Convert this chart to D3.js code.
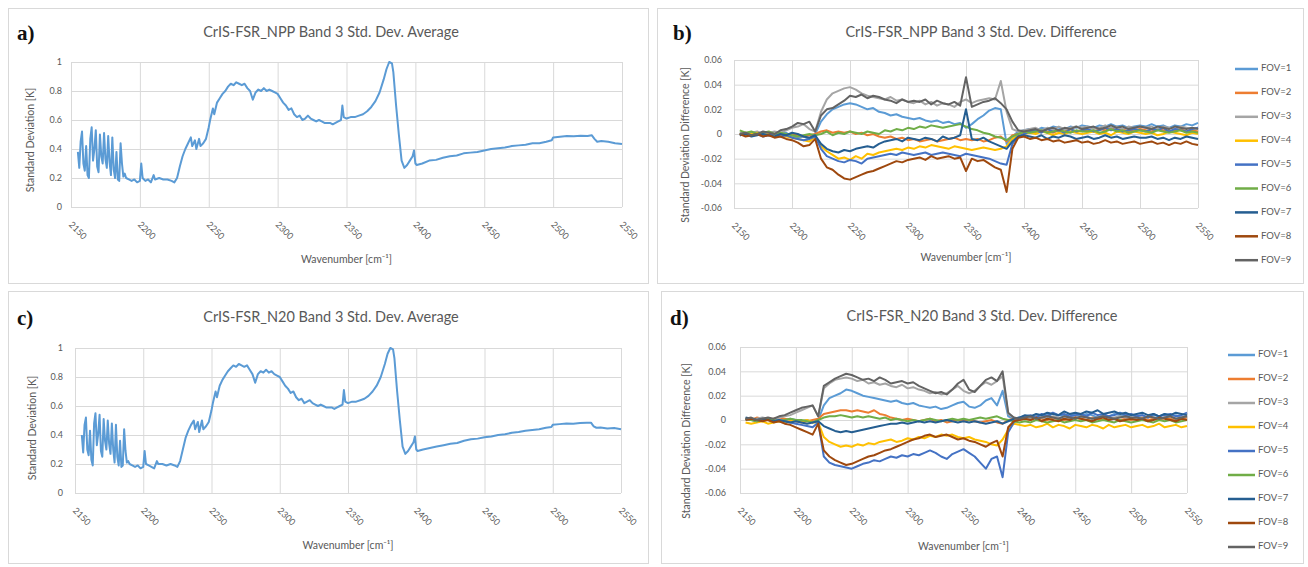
<!DOCTYPE html>
<html>
<head>
<meta charset="utf-8">
<title>CrIS-FSR Band 3 Std. Dev.</title>
<style>
body {
    margin: 0;
    background-color: #fff;
    font-family: Lato, 'Open Sans', sans-serif;
}
svg { display: block; }
.frame { fill: #fff; stroke: #d9d9d9; }
.grid line { stroke: #d9d9d9; }
.grid path { display: none; }
.grid text { fill: #595959; font-size: 9px; font-family: Lato, sans-serif; }
.title { fill: #595959; font-size: 14.5px; text-anchor: middle; dominant-baseline: middle; }
.axis-title { fill: #595959; font-size: 10.5px; text-anchor: middle; dominant-baseline: middle; }
.tag { font-family: 'Liberation Serif', 'DejaVu Serif', serif; font-weight: bold; font-size: 21px; fill: #111; }
.legend text { fill: #595959; font-size: 9.5px; dominant-baseline: middle; }
</style>
<script src="https://cdn.jsdelivr.net/npm/d3@7"></script>
</head>
<body>
<script>
// axis ticks and legend names
var wnTicks = [2150, 2200, 2250, 2300, 2350, 2400, 2450, 2500, 2550];
var sdTicks = [0, 0.2, 0.4, 0.6, 0.8, 1];
var diffTicks = [-0.06, -0.04, -0.02, 0, 0.02, 0.04, 0.06];
var fovNames = ["FOV=1", "FOV=2", "FOV=3", "FOV=4", "FOV=5", "FOV=6", "FOV=7", "FOV=8", "FOV=9"];

// average std. dev. [K], panels a) and c)
var wnAvg = [2155,2156,2157,2158,2159,2160,2161,2162,2163,2164,2165,2166,2167,2168,2169,2170,2171,2172,2173,2174,
    2175,2176,2177,2178,2179,2180,2181,2182,2183,2184,2185,2186,2187,2188,2189,2190,
    2192,2194,2196,2198,2200,
    2201,2202,2204,2206,2208,2210,2211,2214,2217,2220,
    2223,2225,2227,2229,2231,2233,2235,2237,2238,2240,
    2241,2243,2244,2246,2248,2250,2251,2253,2254,2256,
    2258,2260,2262,2264,2266,2268,2270,2272,2274,2276,2278,2280,2282,2284,2286,2288,2290,2292,2294,2296,2298,2300,
    2302,2304,2306,2308,2310,2312,2314,2316,2318,2320,2322,2324,2326,2328,2330,2332,2334,2336,2338,2340,2342,2344,2346,
    2347,2348,2350,
    2353,2356,2359,2362,2365,2368,2371,2374,2377,
    2379,2381,2383,2384,2386,2388,2390,2392,2394,2396,2398,2399,2400,2401,
    2405,2410,2415,2420,2425,2430,2435,2440,2445,2450,2455,2460,2465,2470,2475,2480,2485,2490,2495,
    2499,2500,
    2505,2510,2515,2520,2525,
    2528,2530,2532,2535,2540,2545,2550];

var sdNPP = [0.38,0.27,0.45,0.52,0.30,0.25,0.42,0.22,0.20,0.47,0.55,0.32,0.40,0.53,0.28,0.24,0.50,0.35,0.30,0.51,
    0.33,0.27,0.49,0.31,0.22,0.48,0.26,0.20,0.38,0.19,0.18,0.44,0.30,0.21,0.23,0.20,
    0.19,0.18,0.19,0.17,0.18,
    0.30,0.20,0.18,0.19,0.17,0.22,0.19,0.20,0.19,0.19,
    0.18,0.17,0.20,0.28,0.35,0.40,0.44,0.48,0.42,0.46,
    0.40,0.47,0.42,0.44,0.47,0.55,0.60,0.68,0.64,0.72,
    0.75,0.78,0.80,0.83,0.85,0.84,0.86,0.85,0.84,0.85,0.82,0.80,0.74,0.79,0.81,0.80,0.82,0.80,0.81,0.80,0.79,0.78,
    0.75,0.72,0.70,0.67,0.68,0.64,0.62,0.63,0.60,0.61,0.63,0.61,0.60,0.59,0.60,0.59,0.58,0.58,0.58,0.57,0.58,0.59,0.60,
    0.70,0.62,0.61,
    0.62,0.62,0.63,0.64,0.66,0.69,0.73,0.79,0.88,
    0.95,1.0,0.99,0.93,0.70,0.50,0.32,0.27,0.29,0.32,0.35,0.39,0.30,0.29,
    0.30,0.32,0.325,0.34,0.35,0.355,0.37,0.375,0.38,0.39,0.40,0.405,0.41,0.42,0.425,0.43,0.44,0.44,0.45,
    0.46,0.48,
    0.485,0.49,0.488,0.492,0.49,
    0.495,0.47,0.45,0.455,0.45,0.44,0.435];

var sdN20 = [0.40,0.28,0.47,0.52,0.30,0.26,0.43,0.23,0.19,0.48,0.55,0.33,0.41,0.54,0.29,0.25,0.51,0.36,0.30,0.50,
    0.34,0.27,0.48,0.30,0.21,0.47,0.25,0.19,0.36,0.18,0.19,0.44,0.29,0.21,0.22,0.20,
    0.19,0.18,0.19,0.17,0.18,
    0.29,0.20,0.19,0.18,0.17,0.22,0.20,0.20,0.19,0.20,
    0.19,0.18,0.22,0.30,0.38,0.43,0.47,0.50,0.44,0.49,
    0.42,0.50,0.44,0.46,0.49,0.57,0.62,0.70,0.66,0.74,
    0.78,0.81,0.84,0.86,0.88,0.87,0.89,0.88,0.87,0.88,0.85,0.82,0.76,0.82,0.84,0.83,0.85,0.83,0.84,0.82,0.81,0.80,
    0.77,0.74,0.72,0.69,0.70,0.66,0.64,0.65,0.62,0.63,0.64,0.62,0.61,0.60,0.61,0.60,0.59,0.59,0.59,0.58,0.59,0.60,0.61,
    0.71,0.63,0.62,
    0.63,0.63,0.64,0.65,0.67,0.70,0.74,0.80,0.89,
    0.96,1.0,0.99,0.93,0.70,0.50,0.32,0.27,0.29,0.32,0.35,0.39,0.30,0.29,
    0.30,0.31,0.32,0.33,0.34,0.345,0.36,0.37,0.375,0.385,0.39,0.40,0.405,0.415,0.42,0.43,0.435,0.44,0.45,
    0.455,0.47,
    0.475,0.48,0.478,0.482,0.485,
    0.485,0.46,0.45,0.452,0.445,0.448,0.44];

// std. dev. difference per FOV, in mK, panels b) and d)
var wnDiff = [2155,2160,2165,2170,2175,2180,2185,2190,2195,2200,
    2205,2210,2215,2220,2225,2230,2235,2240,2245,2250,
    2255,2260,2265,2270,2275,2280,2285,2290,2295,2300,
    2305,2310,2315,2320,2325,2330,2335,2340,2345,2350,
    2355,2360,2365,2370,2375,2380,2385,2390,2395,2400,
    2405,2410,2415,2420,2425,2430,2435,2440,2445,2450,
    2455,2460,2465,2470,2475,2480,2485,2490,2495,2500,
    2505,2510,2515,2520,2525,2530,2535,2540,2545,2550];

var nppFov1 = [1,-1,0,1,-1,0,-2,0,1,-2, -3,-2,-4,0,10,16,20,22,24,25, 24,22,20,21,18,17,15,16,14,13,
    12,13,11,10,11,9,10,8,9,5, 8,12,15,19,21,20,-8,-2,2,3, 4,3,5,4,6,5,4,6,5,7,
    6,5,7,6,8,6,7,5,6,7, 6,8,6,7,5,7,6,8,7,9];
var nppFov2 = [0,1,-1,0,1,-1,0,1,-1,0, -1,-2,-1,0,2,3,1,2,1,2, 0,1,-1,0,-2,-3,-2,-4,-3,-5,
    -4,-6,-5,-4,-6,-5,-4,-3,-5,-4, -5,-4,-6,-5,-3,-2,-6,-1,0,1, 2,1,3,2,1,3,2,4,2,3,
    3,2,4,3,5,3,4,2,3,4, 3,2,4,3,2,3,4,2,3,2];
var nppFov3 = [1,0,1,2,0,1,2,1,3,5, 6,8,4,2,18,28,33,35,37,38, 36,33,31,30,29,28,30,27,28,26,
    25,27,24,26,23,25,24,22,26,28, 25,27,28,29,28,43,18,4,2,3, 4,5,3,5,4,6,4,5,6,5,
    6,4,5,7,5,6,4,6,5,6, 5,6,4,6,5,4,6,5,4,5];
var nppFov4 = [0,-1,0,1,-1,0,-1,0,-2,-3, -4,-5,-6,-2,-10,-14,-17,-20,-19,-21, -18,-20,-16,-17,-15,-14,-13,-12,-13,-11,
    -12,-10,-11,-9,-10,-11,-12,-10,-11,-12, -13,-12,-11,-12,-13,-12,-10,-4,-1,0, 1,0,2,1,-1,1,0,2,1,0,
    1,2,0,1,-1,2,1,0,2,1, 0,1,-1,0,2,1,0,-1,1,0];
var nppFov5 = [-1,0,-1,0,-2,-1,0,-2,-1,-3, -4,-5,-4,-2,-12,-18,-20,-22,-23,-21, -22,-24,-20,-19,-18,-17,-16,-17,-15,-16,
    -17,-16,-15,-17,-16,-15,-16,-17,-18,-16, -17,-18,-19,-20,-22,-24,-25,-8,-2,0, 2,3,1,4,2,3,1,4,2,3,
    4,2,3,5,3,4,2,3,4,3, 2,4,3,5,2,4,3,2,4,5];
var nppFov6 = [3,1,2,0,1,2,0,1,0,-1, -2,-1,0,-1,0,2,-1,1,0,2, 1,0,2,1,0,3,2,4,3,5,
    4,6,5,7,6,5,6,7,8,6, 4,3,1,0,-2,-3,-5,-2,0,2, 1,2,3,1,2,3,2,1,3,2,
    2,3,1,2,4,2,3,1,2,3, 2,1,3,2,1,2,3,1,2,1];
var nppFov7 = [-1,0,-2,-1,0,-1,-2,0,-1,1, 0,-2,-3,-1,-8,-12,-14,-15,-13,-14, -12,-11,-10,-11,-8,-6,-5,-4,-6,-3,
    -4,-5,-3,-4,-6,-2,-4,-3,-1,20, -4,-5,-3,-6,-8,-10,-12,-6,-2,-1, -2,-3,-1,-4,-2,-3,-1,-2,-4,-3,
    -2,-4,-3,-1,-3,-2,-4,-3,-2,-3, -3,-2,-4,-3,-5,-3,-4,-2,-3,-4];
var nppFov8 = [0,-2,-1,0,-2,-1,-3,-2,-4,-5, -7,-10,-9,-4,-20,-27,-29,-33,-36,-37, -35,-33,-31,-30,-28,-26,-24,-22,-23,-21,
    -20,-19,-21,-18,-20,-19,-18,-20,-19,-30, -20,-22,-21,-24,-27,-29,-47,-12,-3,-2, -4,-3,-5,-4,-6,-5,-7,-6,-5,-7,
    -6,-8,-7,-5,-7,-6,-8,-7,-6,-8, -7,-6,-8,-7,-9,-7,-8,-6,-8,-9];
var nppFov9 = [0,1,-1,0,2,1,0,3,4,6, 9,8,10,2,15,20,21,24,27,31, 30,32,29,31,30,28,27,25,28,26,
    27,26,28,24,27,25,24,26,23,46, 22,24,26,27,29,25,20,10,3,2, 3,4,2,4,5,3,5,4,6,4,
    5,6,4,5,7,5,6,4,5,6, 5,4,6,5,4,6,5,4,5,4];

var n20Fov1 = [0,1,-1,0,1,0,-1,0,1,0, -1,0,-2,0,12,18,20,22,25,24, 22,20,19,18,17,16,15,16,14,13,
    14,12,11,10,11,9,10,12,14,15, 11,10,12,16,18,12,24,3,1,2, 3,2,4,3,5,2,4,3,5,4,
    3,5,4,2,4,3,5,4,3,4, 3,4,2,4,3,5,3,4,2,3];
var n20Fov2 = [1,0,2,1,0,1,2,1,0,-1, -2,-1,0,1,5,6,7,8,8,7, 8,7,6,8,5,4,2,1,0,1,
    0,-1,0,1,-1,0,-2,-1,0,-1, 0,-1,-2,-1,0,-2,-3,0,1,0, 1,0,2,1,0,2,1,0,1,2,
    1,0,2,1,0,2,1,0,1,0, 1,2,0,1,0,2,1,0,1,2];
var n20Fov3 = [1,0,1,2,1,0,2,3,4,6, 8,10,12,3,26,30,33,34,35,34, 32,33,30,31,29,30,28,27,29,26,
    27,25,24,22,23,21,22,25,28,24, 22,24,28,31,29,32,36,5,2,1, 2,1,3,2,1,3,2,1,2,3,
    2,3,1,2,3,1,2,3,2,1, 2,1,3,2,1,2,3,1,2,3];
var n20Fov4 = [-2,-3,-2,-1,-3,-2,-1,-2,-1,0, -1,0,-2,-2,-14,-18,-20,-22,-21,-22, -20,-21,-19,-20,-18,-17,-16,-18,-17,-15,
    -16,-14,-15,-13,-14,-12,-13,-12,-14,-15, -14,-16,-17,-18,-20,-21,-16,-8,-3,-4, -5,-4,-6,-5,-3,-6,-4,-5,-7,-4,
    -5,-6,-4,-5,-7,-4,-6,-5,-4,-6, -5,-4,-6,-5,-3,-6,-5,-4,-6,-5];
var n20Fov5 = [1,0,-1,0,1,-1,0,-1,-2,-3, -4,-5,-6,-2,-30,-35,-37,-38,-39,-40, -38,-36,-35,-33,-34,-32,-30,-31,-29,-30,
    -28,-29,-27,-25,-27,-30,-32,-28,-26,-24, -27,-30,-35,-40,-32,-30,-47,-10,-2,1, 3,4,2,5,3,6,4,5,3,4,
    5,3,6,4,5,3,4,6,4,5, 3,4,2,5,3,4,5,3,4,6];
var n20Fov6 = [1,0,-1,0,1,0,-1,0,1,0, 0,-1,-2,0,2,3,3,4,3,2, 3,2,3,2,1,2,0,1,0,-1,
    0,-1,0,1,0,-1,0,1,0,1, 0,1,2,1,2,3,1,0,-1,-2, -1,-2,0,-1,-2,-1,0,-2,-1,0,
    -1,0,-2,-1,0,-1,-2,0,-1,-2, -1,0,-1,-2,0,-1,0,-2,-1,0];
var n20Fov7 = [2,1,0,1,0,-1,0,-1,-2,-1, -2,-3,-2,-1,-5,-7,-9,-10,-9,-10, -9,-8,-7,-6,-5,-4,-3,-3,-2,-3,
    -2,-1,-2,-1,-2,-1,0,-1,-2,-1, -2,-1,-2,-3,-2,-1,-3,-1,1,2, 4,3,5,4,6,5,4,7,5,6,
    5,7,6,8,5,6,7,5,6,4, 5,6,4,5,3,5,4,6,5,4];
var n20Fov8 = [0,1,0,-1,0,-2,-1,-3,-4,-6, -8,-10,-12,-3,-25,-30,-33,-35,-37,-36, -34,-32,-30,-29,-27,-25,-24,-22,-20,-18,
    -16,-15,-13,-12,-14,-13,-12,-14,-16,-15, -17,-18,-20,-22,-19,-17,-30,-6,-1,0, 1,0,2,-1,1,0,-1,1,0,2,
    1,0,-1,1,2,0,1,-1,0,1, 0,1,-1,0,2,1,0,-1,1,0];
var n20Fov9 = [1,2,0,1,2,1,3,4,6,8, 10,11,12,3,28,31,34,36,38,37, 35,33,34,32,35,33,30,31,32,30,
    31,28,26,24,22,23,21,25,30,33, 25,23,28,33,35,32,40,6,2,1, 2,3,1,2,3,2,1,3,2,1,
    3,2,1,2,3,2,1,2,3,2, 2,1,3,2,1,2,3,1,2,3];

// Excel-like series colours
var avgColor = "#5B9BD5";
var fovColors = ["#5B9BD5", "#ED7D31", "#A5A5A5", "#FFC000", "#4472C4", "#70AD47", "#255E91", "#9E480E", "#636363"];

var svg = d3.select("body")
    .append("svg")
    .attr("width", 1308)
    .attr("height", 567);

var drawPanel = function (p) {
    var g = svg.append("g");
    var left = p.plot[0], right = p.plot[1], top = p.plot[2], bottom = p.plot[3];

    g.append("rect")
        .attr("class", "frame")
        .attr("x", p.box[0] + 0.5).attr("y", p.box[1] + 0.5)
        .attr("width", p.box[2]).attr("height", p.box[3]);

    var x = d3.scaleLinear().domain([2150, 2550]).range([left, right]);
    var y = d3.scaleLinear().domain([p.yTicks[0], p.yTicks[p.yTicks.length - 1]]).range([bottom, top]);

    g.append("g")
        .attr("class", "grid")
        .attr("transform", "translate(" + left + ",0)")
        .call(d3.axisLeft(y).tickValues(p.yTicks).tickSize(-(right - left)).tickSizeOuter(0)
            .tickPadding(p.yPad).tickFormat(String));

    g.append("g")
        .attr("class", "grid")
        .attr("transform", "translate(0," + bottom + ")")
        .call(d3.axisBottom(x).tickValues(wnTicks).tickSize(-(bottom - top)).tickSizeOuter(0).tickFormat(String))
        .selectAll("text")
        .attr("y", 0)
        .attr("dy", "0.35em")
        .attr("text-anchor", "start")
        .attr("transform", "translate(-1,16) rotate(45)");

    var line = d3.line()
        .x(function (d) { return x(d[0]); })
        .y(function (d) { return y(d[1]); });

    // series in order, last one on top (as the spreadsheet draws them)
    p.series.forEach(function (s) {
        g.append("path")
            .datum(s.wn.map(function (w, k) { return [w, s.values[k] * s.unit]; }))
            .attr("d", line)
            .attr("fill", "none")
            .attr("stroke", s.color)
            .attr("stroke-width", p.lineWidth)
            .attr("stroke-linejoin", "round");
    });

    g.append("text").attr("class", "tag")
        .attr("x", p.tag[0]).attr("y", p.tag[1]).text(p.tagText);
    g.append("text").attr("class", "title")
        .attr("x", p.titlePos[0]).attr("y", p.titlePos[1]).text(p.title);
    g.append("text").attr("class", "axis-title")
        .attr("x", (left + right) / 2).attr("y", p.xTitleY)
        .text("Wavenumber [cm\u207B\u00B9]");
    g.append("text").attr("class", "axis-title")
        .attr("transform", "translate(" + p.yTitle[0] + "," + p.yTitle[1] + ") rotate(-90)")
        .text(p.yTitleText);

    if (p.legend) {
        var lg = g.append("g").attr("class", "legend");
        fovNames.forEach(function (name, i) {
            var ly = p.legend.y0 + i * p.legend.dy;
            lg.append("line")
                .attr("x1", p.legend.x1).attr("x2", p.legend.x2)
                .attr("y1", ly).attr("y2", ly)
                .attr("stroke", fovColors[i]).attr("stroke-width", 2.5);
            lg.append("text").attr("x", p.legend.x2 + 3).attr("y", ly).text(name);
        });
    }
};

var fovSeries = function (list) {
    return list.map(function (v, i) {
        return { wn: wnDiff, values: v, unit: 0.001, color: fovColors[i] };
    });
};

drawPanel({
    box: [8, 8, 640, 275], plot: [71, 622, 62, 207],
    tag: [17, 40], tagText: "a)",
    title: "CrIS-FSR_NPP Band 3 Std. Dev. Average", titlePos: [331, 33],
    yTicks: sdTicks, yPad: 9, yTitle: [31, 140], yTitleText: "Standard Deviation [K]",
    xTitleY: 260, lineWidth: 2,
    series: [{ wn: wnAvg, values: sdNPP, unit: 1, color: avgColor }]
});

drawPanel({
    box: [657, 8, 646, 275], plot: [734, 1198, 60, 208],
    tag: [673, 40], tagText: "b)",
    title: "CrIS-FSR_NPP Band 3 Std. Dev. Difference", titlePos: [981, 33],
    yTicks: diffTicks, yPad: 12, yTitle: [686, 145], yTitleText: "Standard Deviation Difference [K]",
    xTitleY: 258, lineWidth: 2,
    series: fovSeries([nppFov1, nppFov2, nppFov3, nppFov4, nppFov5, nppFov6, nppFov7, nppFov8, nppFov9]),
    legend: { x1: 1235, x2: 1258, y0: 69, dy: 23.9 }
});

drawPanel({
    box: [8, 291, 640, 272], plot: [75, 621, 348, 493],
    tag: [17, 325], tagText: "c)",
    title: "CrIS-FSR_N20 Band 3 Std. Dev. Average", titlePos: [331, 318],
    yTicks: sdTicks, yPad: 12, yTitle: [33, 428], yTitleText: "Standard Deviation [K]",
    xTitleY: 546, lineWidth: 2,
    series: [{ wn: wnAvg, values: sdN20, unit: 1, color: avgColor }]
});

drawPanel({
    box: [661, 291, 642, 272], plot: [740, 1187, 347, 493],
    tag: [670, 325], tagText: "d)",
    title: "CrIS-FSR_N20 Band 3 Std. Dev. Difference", titlePos: [982, 317],
    yTicks: diffTicks, yPad: 14, yTitle: [687, 441], yTitleText: "Standard Deviation Difference [K]",
    xTitleY: 547, lineWidth: 2,
    series: fovSeries([n20Fov1, n20Fov2, n20Fov3, n20Fov4, n20Fov5, n20Fov6, n20Fov7, n20Fov8, n20Fov9]),
    legend: { x1: 1228, x2: 1255, y0: 355, dy: 24 }
});
</script>
</body>
</html>
